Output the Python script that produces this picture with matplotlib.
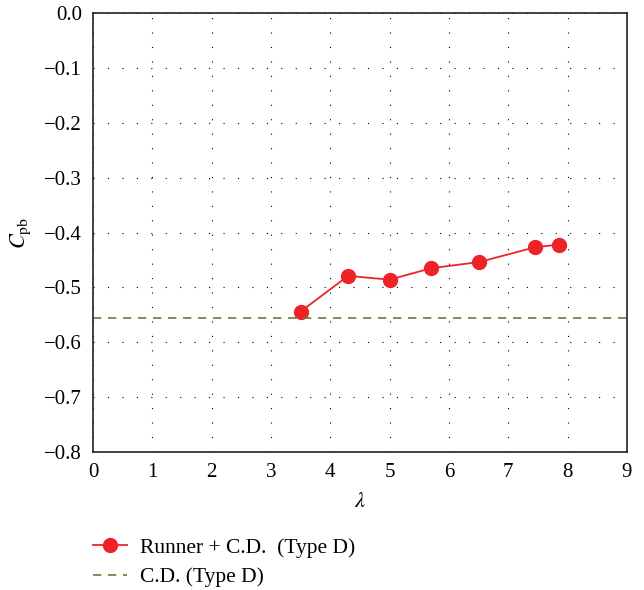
import numpy as np
import matplotlib.pyplot as plt

plt.rcParams['font.family'] = 'Liberation Serif'
plt.rcParams['mathtext.fontset'] = 'stix'

# tip speed ratio vs base pressure coefficient
lam = [3.5, 4.3, 5.0, 5.7, 6.5, 7.45, 7.85]
cpb = [-0.544, -0.479, -0.486, -0.465, -0.454, -0.427, -0.422]
cpb_cd = -0.556

red = '#ee2328'
olive = '#6b7a3c'

fig = plt.figure(figsize=(6.44, 5.90), dpi=100)
ax = fig.add_axes([93/644, 1 - 452/590, 534/644, 439/590])

ax.plot(lam, cpb, color=red, lw=1.3, marker='o', ms=10,
        label='Runner + C.D.  (Type D)')
ax.axhline(cpb_cd, color=olive, lw=1.2, ls=(0, (5, 4)), label='C.D. (Type D)')

ax.set_xlim(0, 9)
ax.set_ylim(-0.8, 0.0)
ax.set_xticks(np.arange(0, 10, 1))
ax.set_yticks(np.arange(-0.8, 0.01, 0.1))
ax.set_yticklabels(['\u22120.8', '\u22120.7', '\u22120.6', '\u22120.5', '\u22120.4',
                    '\u22120.3', '\u22120.2', '\u22120.1', '0.0'])
ax.tick_params(length=0, labelsize=15, pad=8)
ax.grid(True, color='black', lw=0.8, ls=(0, (1, 12)))
for s in ax.spines.values():
    s.set_linewidth(1.2)
    s.set_color('#222222')

ax.set_xlabel(r'$\lambda$', fontsize=16, labelpad=8)
ax.set_ylabel(r'$C_{\mathrm{pb}}$', fontsize=16, labelpad=8)

ax.legend(loc='upper left', bbox_to_anchor=(0.0, -0.195), frameon=False,
          fontsize=15.5, handlelength=1.6, handletextpad=0.6,
          labelspacing=0.45, borderaxespad=0, borderpad=0)

fig.savefig('out.png', dpi=100)
